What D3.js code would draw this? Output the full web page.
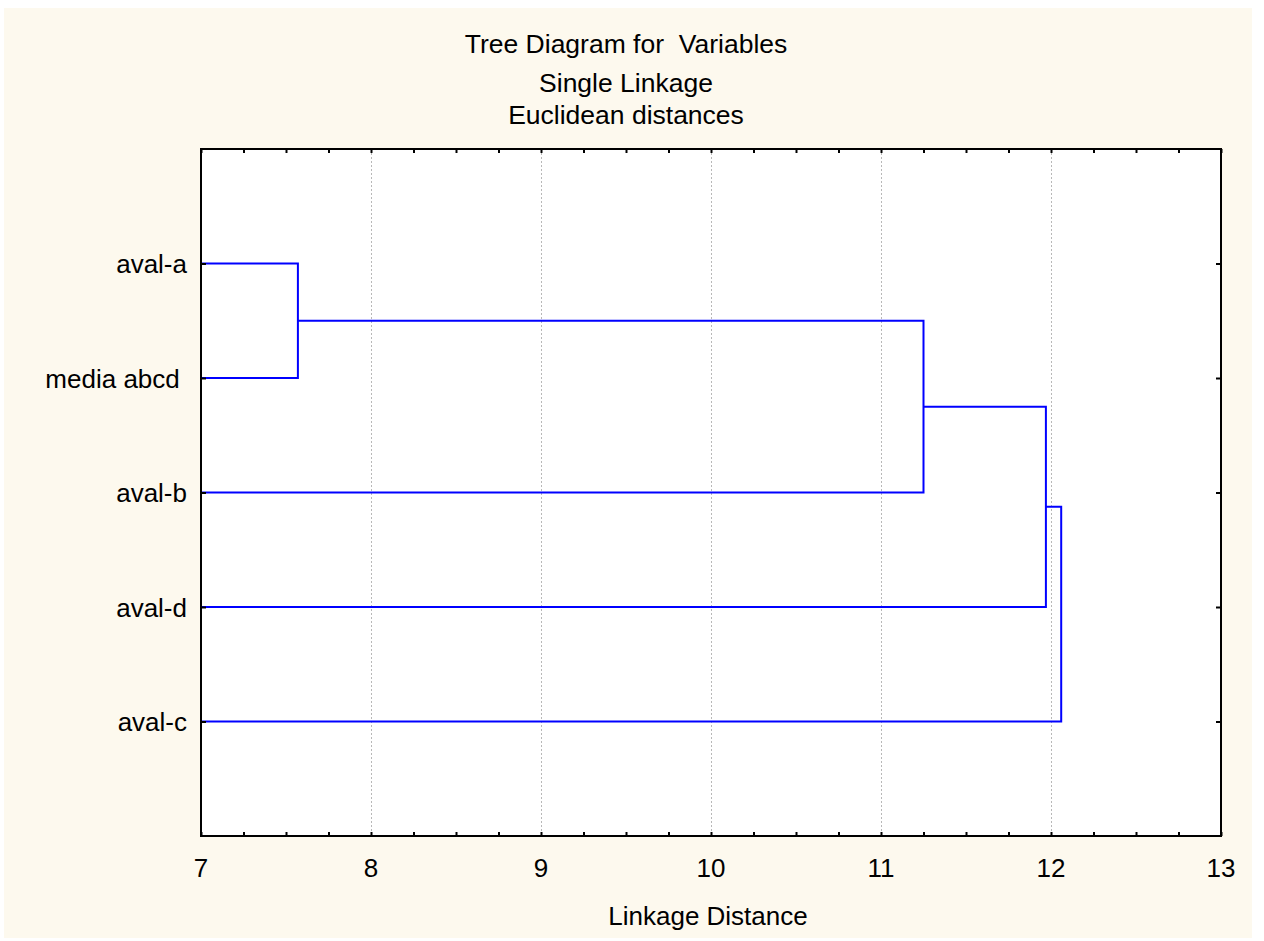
<!DOCTYPE html>
<html>
<head>
<meta charset="utf-8">
<script src="https://cdn.jsdelivr.net/npm/d3@7"></script>
<style>
  html, body { margin: 0; padding: 0; background: #ffffff; }
  svg { display: block; }
  text { font-family: "Liberation Sans", Arial, sans-serif; fill: #000; }
</style>
</head>
<body>
<svg id="chart" width="1264" height="941"></svg>
<script>
// Leaves, in display order (top to bottom)
const leafNames = ["aval-a", "media abcd ", "aval-b", "aval-d", "aval-c"];

// Agglomeration steps: ids 0..4 are leaves, id 5+i is the cluster formed at step i
const mergeLeft   = [0, 5, 6, 7];
const mergeRight  = [1, 2, 3, 4];
const mergeHeight = [7.57, 11.25, 11.97, 12.06];

// Axis
const xTicks = [7, 8, 9, 10, 11, 12, 13];
const xDomain = [7, 13];

const titleLines = ["Tree Diagram for  Variables", "Single Linkage", "Euclidean distances"];
const xLabel = "Linkage Distance";

const svg = d3.select("#chart");
const plot = { left: 201, right: 1221, top: 149, bottom: 836 };
const fontSize = 26;

// Cream panel
svg.append("rect")
  .attr("x", 4).attr("y", 8).attr("width", 1248).attr("height", 930)
  .attr("fill", "#fdf9ee");

// Plot area
svg.append("rect")
  .attr("x", plot.left).attr("y", plot.top)
  .attr("width", plot.right - plot.left).attr("height", plot.bottom - plot.top)
  .attr("fill", "#ffffff");

const x = d3.scaleLinear().domain(xDomain).range([plot.left, plot.right]);
const y = d3.scaleLinear().domain([0, leafNames.length + 1]).range([plot.top, plot.bottom]);

// Vertical grid lines at interior major ticks
svg.append("g").selectAll("line")
  .data(xTicks.filter(t => t > xDomain[0] && t < xDomain[1]))
  .join("line")
  .attr("x1", d => x(d) + 0.5).attr("x2", d => x(d) + 0.5)
  .attr("y1", plot.top).attr("y2", plot.bottom)
  .attr("stroke", "#b8b8b8").attr("stroke-width", 1)
  .attr("stroke-dasharray", "2,2");

// Node positions: leaves at integer rows, clusters at the mean of their two children
const nodeY = leafNames.map((_, i) => y(i + 1));
const nodeX = leafNames.map(() => x(xDomain[0]));
mergeLeft.forEach((l, i) => {
  const r = mergeRight[i];
  nodeY.push((nodeY[l] + nodeY[r]) / 2);
  nodeX.push(x(mergeHeight[i]));
});

// Dendrogram elbows
const tree = svg.append("g")
  .attr("fill", "none").attr("stroke", "#0000ff").attr("stroke-width", 2)
  .attr("stroke-linejoin", "miter");
mergeLeft.forEach((l, i) => {
  const r = mergeRight[i];
  const mx = x(mergeHeight[i]);
  const path = d3.path();
  path.moveTo(nodeX[l], nodeY[l]);
  path.lineTo(mx, nodeY[l]);
  path.lineTo(mx, nodeY[r]);
  path.lineTo(nodeX[r], nodeY[r]);
  tree.append("path").attr("d", path.toString());
});

// Axes: bottom with labels, top with ticks only, inward tick marks
const minorTicks = d3.range(xDomain[0], xDomain[1] + 0.001, 0.25);
const bottomAxis = d3.axisBottom(x).tickValues(minorTicks).tickSize(-4).tickFormat("");
const topAxis = d3.axisTop(x).tickValues(minorTicks).tickSize(-4).tickFormat("");
const leafRows = leafNames.map((_, i) => i + 1);
const leftAxis = d3.axisLeft(y).tickValues(leafRows).tickSize(-5)
  .tickFormat((d) => leafNames[d - 1]).tickPadding(14);
const rightAxis = d3.axisRight(y).tickValues(leafRows).tickSize(-5).tickFormat("");

function styleAxis(g) {
  g.select(".domain").remove();
  g.selectAll(".tick line").attr("stroke", "#000").attr("stroke-width", 2);
}

svg.append("g").attr("transform", `translate(0,${plot.bottom})`).call(bottomAxis).call(styleAxis);
svg.append("g").attr("transform", `translate(0,${plot.top})`).call(topAxis).call(styleAxis);
const gl = svg.append("g").attr("transform", `translate(${plot.left},0)`).call(leftAxis).call(styleAxis);
gl.selectAll(".tick text")
  .style("font-family", "'Liberation Sans', Arial, sans-serif")
  .attr("font-size", fontSize).attr("fill", "#000").attr("dy", "0.35em")
  .attr("x", -14).attr("text-anchor", "end")
  .attr("xml:space", "preserve");
svg.append("g").attr("transform", `translate(${plot.right},0)`).call(rightAxis).call(styleAxis);

// Major tick labels
svg.append("g").selectAll("text")
  .data(xTicks)
  .join("text")
  .attr("x", d => x(d)).attr("y", 877)
  .attr("text-anchor", "middle").attr("font-size", fontSize)
  .text(d => d);

// Frame
svg.append("rect")
  .attr("x", plot.left).attr("y", plot.top)
  .attr("width", plot.right - plot.left).attr("height", plot.bottom - plot.top)
  .attr("fill", "none").attr("stroke", "#000").attr("stroke-width", 2);

// Titles
const titleY = [53, 92, 124];
svg.append("g").selectAll("text")
  .data(titleLines)
  .join("text")
  .attr("x", 626).attr("y", (d, i) => titleY[i])
  .attr("text-anchor", "middle").attr("font-size", 26.5)
  .attr("xml:space", "preserve")
  .text(d => d);

svg.append("text")
  .attr("x", 708).attr("y", 925)
  .attr("text-anchor", "middle").attr("font-size", fontSize)
  .text(xLabel);
</script>
</body>
</html>
